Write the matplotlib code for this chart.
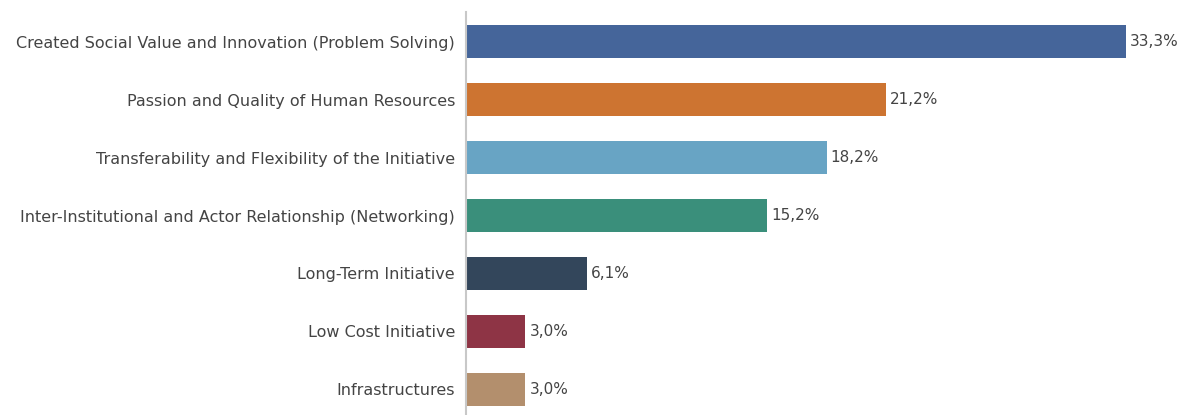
import matplotlib
matplotlib.use("Agg")
import matplotlib.pyplot as plt

categories = [
    "Created Social Value and Innovation (Problem Solving)",
    "Passion and Quality of Human Resources",
    "Transferability and Flexibility of the Initiative",
    "Inter-Institutional and Actor Relationship (Networking)",
    "Long-Term Initiative",
    "Low Cost Initiative",
    "Infrastructures",
]
values = [33.3, 21.2, 18.2, 15.2, 6.1, 3.0, 3.0]
bar_colors = ["#45659a", "#cd7431", "#68a4c4", "#3a8f7b", "#33465b", "#8e3445", "#b38f6d"]

plt.rcParams['font.family'] = ['DejaVu Sans']

W, H = 1185, 415
fig = plt.figure(figsize=(W / 100, H / 100), dpi=100)
ax = fig.add_axes([466 / W, 0, 1 - 466 / W, 1 - 12 / H])

ypos = list(range(len(categories)))
ax.barh(ypos, values, height=0.57, color=bar_colors)

for y, v in zip(ypos, values):
    ax.text(v + 0.2, y, f"{v:.1f}".replace(".", ",") + "%", va="center", ha="left",
            fontsize=11, color="#444444")

ax.set_xlim(0, 33.3 * 719 / 660)
ax.set_ylim(6.44, -0.509)
ax.set_yticks(ypos)
ax.set_yticklabels(categories, fontsize=11.55, color="#444444")
ax.tick_params(axis="y", length=0, pad=8)
ax.set_xticks([])
for side in ["top", "right", "bottom"]:
    ax.spines[side].set_visible(False)
ax.spines["left"].set_color("#c8c8c8")
ax.spines["left"].set_linewidth(1.5)

fig.savefig("out.png", dpi=100)
